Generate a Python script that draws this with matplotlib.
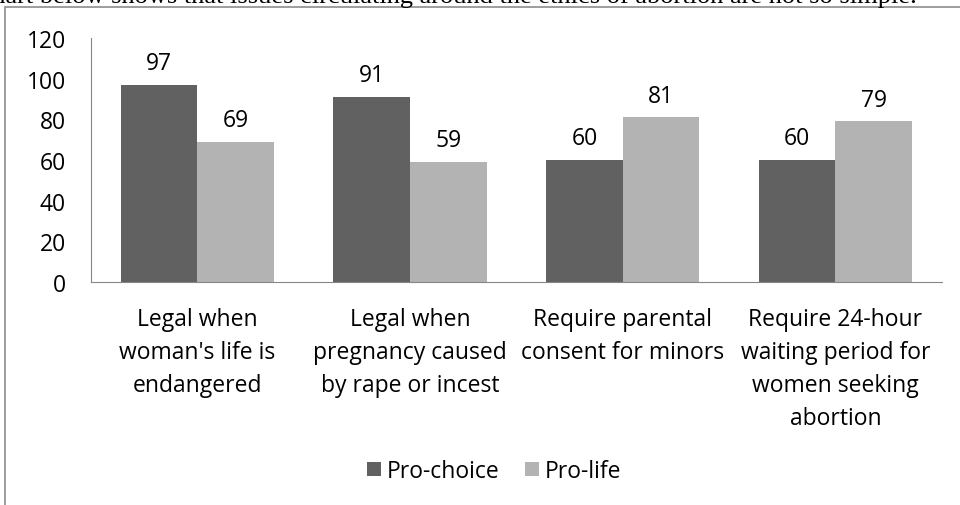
import matplotlib.pyplot as plt
import numpy as np
from matplotlib.patches import Rectangle

categories = ["Legal when\nwoman's life is\nendangered",
              "Legal when\npregnancy caused\nby rape or incest",
              "Require parental\nconsent for minors",
              "Require 24-hour\nwaiting period for\nwomen seeking\nabortion"]
pro_choice = [97, 91, 60, 60]
pro_life = [69, 59, 81, 79]

plt.rcParams['font.family'] = ['Open Sans', 'DejaVu Sans']
fs = 16.5

fig = plt.figure(figsize=(9.6, 5.06), dpi=100)
ax = fig.add_axes([0.0948, 0.4407, 0.8862, 0.4822])

x = np.arange(len(categories))
w = 0.36
b1 = ax.bar(x - w / 2, pro_choice, w, color='#616161', label='Pro-choice')
b2 = ax.bar(x + w / 2, pro_life, w, color='#b3b3b3', label='Pro-life')
for bars in (b1, b2):
    for r in bars:
        ax.annotate(str(int(r.get_height())), (r.get_x() + r.get_width() / 2, r.get_height()),
                    xytext=(0, 7), textcoords='offset points', ha='center', va='bottom',
                    fontsize=fs)

ax.set_xlim(-0.5, 3.5)
ax.set_ylim(0, 120)
ax.set_yticks(range(0, 121, 20))
ax.set_xticks(x)
ax.set_xticklabels(categories, fontsize=fs, linespacing=1.5, va='top')
ax.tick_params(axis='both', length=0, labelsize=fs)
ax.tick_params(axis='y', pad=18)
ax.tick_params(axis='x', pad=18)
for s in ('top', 'right'):
    ax.spines[s].set_visible(False)
for s in ('left', 'bottom'):
    ax.spines[s].set_color('#868686')

fig.legend(loc='center', bbox_to_anchor=(0.515, 0.067), ncol=2, frameon=False,
           fontsize=fs, handlelength=0.6, handleheight=0.6, handletextpad=0.26,
           columnspacing=1.1)

# frame of the chart box
fig.patches.append(Rectangle((5 / 960, -0.1), 1.2, 1 - 8 / 506 + 0.1,
                             transform=fig.transFigure, fill=False,
                             edgecolor='#8c8c8c', linewidth=1.2))
# cut-off body text above the chart
fig.text(-0.07, 1 - 3 / 506, "The chart below shows that issues circulating around the ethics of abortion are not so simple.",
         family='Liberation Serif', fontsize=19, ha='left', va='baseline')

fig.savefig("out.png", dpi=100)
